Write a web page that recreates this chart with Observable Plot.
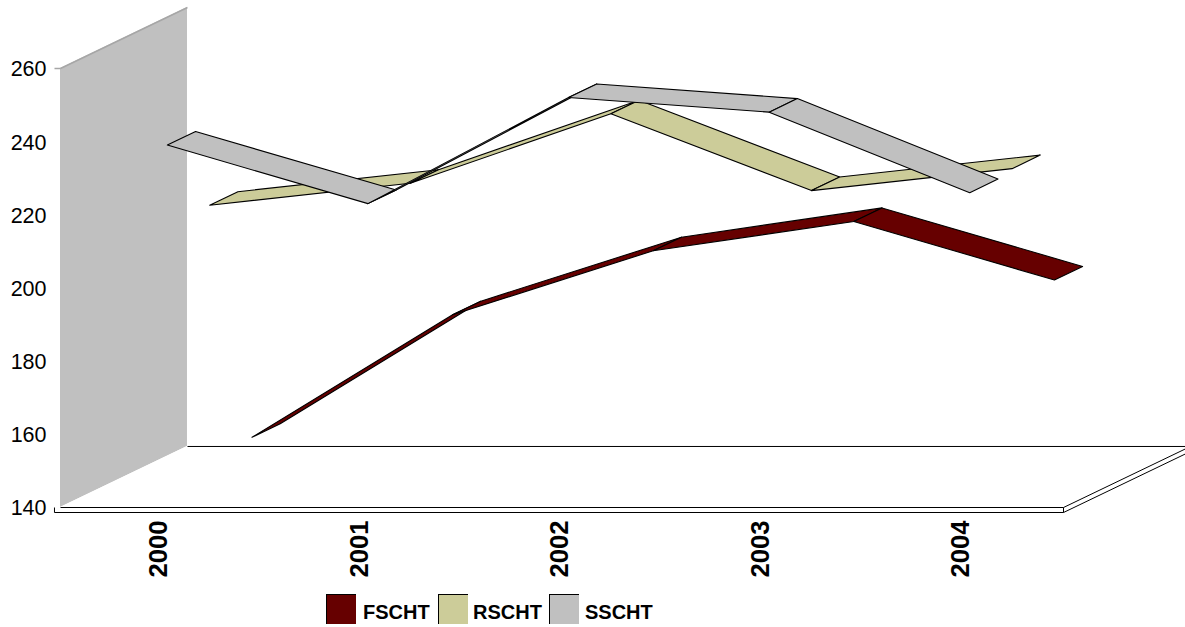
<!DOCTYPE html>
<html><head><meta charset="utf-8">
<script src="https://cdn.jsdelivr.net/npm/d3@7"></script>
<script src="https://cdn.jsdelivr.net/npm/@observablehq/plot@0.6"></script>
<style>
html,body{margin:0;padding:0;background:#fff;overflow:hidden}
svg{display:block}
#legend{position:relative;height:37px;font:bold 20px "Liberation Sans",Arial,sans-serif;color:#000}
#legend span{position:absolute}
</style></head><body>
<div id="chart"></div>
<div id="legend"></div>
<script>
const years = [2000, 2001, 2002, 2003, 2004];
const seriesNames = ["FSCHT", "RSCHT", "SSCHT"];
const FSCHT = [147, 180.5, 198, 206, 190];
const RSCHT = [216, 222, 241, 220, 226];
const SSCHT = [238, 222, 251, 247, 225];
const colors = ["#660000", "#CCCC99", "#C0C0C0"];
const yTicks = [140, 160, 180, 200, 220, 240, 260];
const values = [FSCHT, RSCHT, SSCHT];
const depthSlot = [2, 1, 0];

// 3D projection, expressed in the units of the x and y scales
const depthX = 0.633, depthY = 16.68;
const xMin = -0.5, xMax = 4.5, yMin = 140, yMax = 260, slab = 1.37;

const ribbons = [];
seriesNames.forEach((name, s) => {
  const f = (depthSlot[s] + 1 / 6) / 3, w = 2 / 9;
  for (let i = 0; i < years.length - 1; i++) {
    for (const j of [i, i + 1]) {
      ribbons.push({
        series: name, seg: name + i,
        x1: j + f * depthX, y1: values[s][j] + f * depthY,
        x2: j + (f + w) * depthX, y2: values[s][j] + (f + w) * depthY
      });
    }
  }
});

const wall = [
  {x: xMin, y1: yMin, y2: yMax},
  {x: xMin + depthX, y1: yMin + depthY, y2: yMax + depthY}
];
const floorPlane = [
  {x1: xMin, y1: yMin, x2: xMin + depthX, y2: yMin + depthY},
  {x1: xMax, y1: yMin, x2: xMax + depthX, y2: yMin + depthY}
];
const stub = 0.03;
const frameLines = [
  {x1: xMin + depthX, y1: yMin + depthY, x2: xMax + depthX, y2: yMin + depthY},
  {x1: xMin, y1: yMin, x2: xMax, y2: yMin},
  {x1: xMin - stub, y1: yMin - slab, x2: xMax, y2: yMin - slab},
  {x1: xMin - stub, y1: yMin, x2: xMin - stub, y2: yMin - slab},
  {x1: xMax, y1: yMin, x2: xMax, y2: yMin - slab},
  {x1: xMax, y1: yMin, x2: xMax + depthX, y2: yMin + depthY},
  {x1: xMax, y1: yMin - slab, x2: xMax + depthX, y2: yMin - slab + depthY}
];
const wallTop = [
  {x1: xMin - stub, y1: yMax, x2: xMin, y2: yMax},
  {x1: xMin, y1: yMax, x2: xMin + depthX, y2: yMax + depthY}
];

const chart = Plot.plot({
  width: 1185, height: 590,
  marginLeft: 50, marginTop: 0, marginRight: 0, marginBottom: 0,
  style: {fontFamily: '"Liberation Sans", Arial, sans-serif', background: "#fff", color: "#000"},
  x: {domain: [xMin, xMax], range: [60, 1063], axis: null},
  y: {domain: [yMin, yMax], range: [507, 68], axis: null},
  color: {domain: seriesNames, range: colors},
  marks: [
    Plot.area(wall, {x1: "x", x2: "x", y1: "y1", y2: "y2", fill: colors[2]}),
    Plot.link(wallTop, {x1: "x1", y1: "y1", x2: "x2", y2: "y2", stroke: "#a6a6a6", strokeWidth: 1.5}),
    Plot.area(floorPlane, {x1: "x1", y1: "y1", x2: "x2", y2: "y2", fill: "#fff"}),
    Plot.link(frameLines, {x1: "x1", y1: "y1", x2: "x2", y2: "y2", stroke: "#000", strokeWidth: 1}),
    Plot.area(ribbons, {
      x1: "x1", y1: "y1", x2: "x2", y2: "y2", z: "seg",
      fill: "series", stroke: "#000", strokeWidth: 1.1, strokeLinejoin: "round"
    }),
    Plot.axisY({
      ticks: yTicks, tickSize: 0, tickPadding: 4, anchor: "left", label: null,
      fontSize: 21.5, dy: 1
    }),
    Plot.text(years, {
      x: (d, i) => i, y: () => yMin, text: d => String(d),
      rotate: -90, textAnchor: "end", lineAnchor: "middle",
      fontSize: 25.6, fontWeight: "bold", dy: 13, dx: -2, fill: "#000"
    })
  ]
});
document.getElementById("chart").append(chart);

const legend = document.getElementById("legend");
const swatchX = [326, 438, 549], labelX = [363, 473, 585];
seriesNames.forEach((name, i) => {
  const sw = document.createElement("span");
  sw.style.cssText = `left:${swatchX[i]}px;top:4px;width:30px;height:30px;background:${colors[i]};box-sizing:border-box;border-top:1px solid #000;border-left:1px solid #000`;
  const lb = document.createElement("span");
  lb.style.cssText = `left:${labelX[i]}px;top:10px;line-height:24px`;
  lb.textContent = name;
  legend.append(sw, lb);
});
</script>
</body></html>
